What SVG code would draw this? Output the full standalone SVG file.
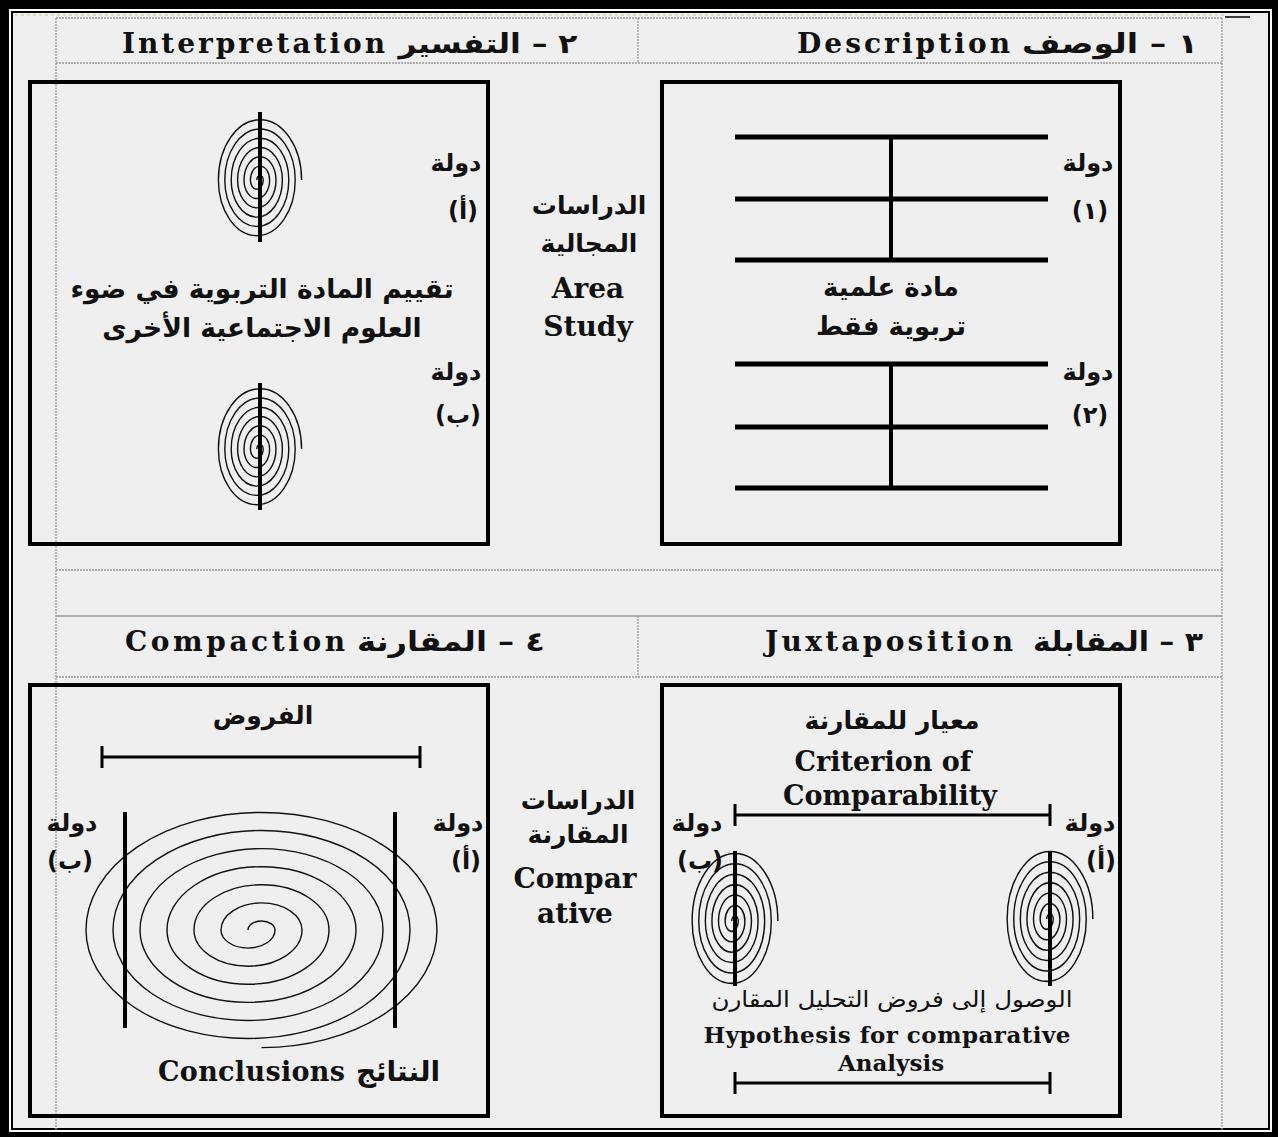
<svg xmlns="http://www.w3.org/2000/svg" xmlns:xlink="http://www.w3.org/1999/xlink" width="1278" height="1137" viewBox="0 0 1278 1137">
<style>
.grid{stroke:#9a9a9a;stroke-width:1.3;fill:none;stroke-dasharray:2 1}
.box{fill:none;stroke:#000;stroke-width:4}
.bar{stroke:#000;stroke-width:5;fill:none}
.thin{stroke:#000;stroke-width:3;fill:none}
.stem{stroke:#000;stroke-width:4;fill:none}
.spiral{stroke:#111;stroke-width:1.4;fill:none}
.hdr{font-family:"DejaVu Serif","Liberation Serif",serif;font-weight:bold;font-size:28px;fill:#111}
.hda{font-family:"DejaVu Sans",sans-serif;font-weight:bold;font-size:27px;fill:#111;text-anchor:middle}
.en{font-family:"DejaVu Serif","Liberation Serif",serif;font-weight:bold;font-size:27px;fill:#111;text-anchor:middle}
.ar{font-family:"DejaVu Sans",sans-serif;font-weight:bold;font-size:25px;fill:#111;text-anchor:middle}
.dw{font-size:24px}
</style>
<defs>
<path id="sp" class="spiral" d="M -3.2 0 A 3.2 4.64 0 0 1 3.2 0 A 6.4 9.28 0 0 1 -9.6 0 A 9.6 13.92 0 0 1 9.6 0 A 12.8 18.56 0 0 1 -16 0 A 16 23.2 0 0 1 16 0 A 19.2 27.84 0 0 1 -22.4 0 A 22.4 32.48 0 0 1 22.4 0 A 25.6 37.12 0 0 1 -28.8 0 A 28.8 41.76 0 0 1 28.8 0 A 32 46.4 0 0 1 -35.2 0 A 35.2 51.04 0 0 1 35.2 0 A 38.4 55.68 0 0 1 -41.6 0 A 41.6 60.32 0 0 1 41.6 0"/>
</defs>
<g id="frame">
<rect x="0" y="0" width="1278" height="1137" fill="#000"/>
<rect x="9" y="9" width="1263" height="1123" fill="#fff"/>
<rect x="11" y="11" width="1259" height="1119" fill="#000"/>
<rect x="13" y="13" width="1255" height="1115" fill="#efefef"/>
<line x1="15" y1="15" x2="1225" y2="15" stroke="#c9c79a" stroke-width="1.2" stroke-dasharray="3 3"/>
<line x1="1225" y1="17" x2="1250" y2="17" stroke="#000" stroke-width="1.5"/>
</g>
<g id="table">
<line class="grid" x1="56" y1="18" x2="1222" y2="18"/>
<line class="grid" x1="56" y1="63" x2="1222" y2="63"/>
<line class="grid" x1="56" y1="18" x2="56" y2="1130"/>
<line class="grid" x1="1222" y1="18" x2="1222" y2="1130"/>
<line class="grid" x1="638" y1="18" x2="638" y2="63"/>
<line class="grid" x1="56" y1="570" x2="1222" y2="570"/>
<line x1="56" y1="616" x2="1222" y2="616" stroke="#999" stroke-width="1.3"/>
<line class="grid" x1="56" y1="677" x2="1222" y2="677"/>
<line class="grid" x1="638" y1="616" x2="638" y2="677"/>
</g>
<g id="header-interpretation">
<text class="hdr" x="122" y="53" textLength="263" lengthAdjust="spacing">Interpretation</text>
<text class="hda" x="488" y="53" direction="rtl" textLength="179" lengthAdjust="spacingAndGlyphs">٢ – التفسير</text>
</g>
<g id="header-description">
<text class="hdr" x="797" y="53" textLength="213" lengthAdjust="spacing">Description</text>
<text class="hda" x="1110" y="53" direction="rtl" textLength="176" lengthAdjust="spacingAndGlyphs">١ – الوصف</text>
</g>
<g id="header-compaction">
<text class="hdr" x="125" y="651" textLength="220" lengthAdjust="spacing">Compaction</text>
<text class="hda" x="451" y="651" direction="rtl" textLength="188" lengthAdjust="spacingAndGlyphs">٤ – المقارنة</text>
</g>
<g id="header-juxtaposition">
<text class="hdr" x="765" y="651" textLength="248" lengthAdjust="spacing">Juxtaposition</text>
<text class="hda" x="1118" y="651" direction="rtl" textLength="170" lengthAdjust="spacingAndGlyphs">٣ – المقابلة</text>
</g>
<g id="panel-description">
<rect class="box" x="662" y="82" width="458" height="462"/>
<text class="ar" x="891" y="296" style="font-size:26px">مادة علمية</text>
<text class="ar" x="891" y="335" style="font-size:26px">تربوية فقط</text>
<text class="ar dw" x="1088" y="171">دولة</text>
<text class="ar dw" x="1090" y="219">(١)</text>
<text class="ar dw" x="1088" y="380">دولة</text>
<text class="ar dw" x="1090" y="423">(٢)</text>
</g>
<g id="panel-interpretation">
<rect class="box" x="30" y="82" width="458" height="462"/>
<use xlink:href="#sp" transform="translate(260,180)"/>
<use xlink:href="#sp" transform="translate(260,449)"/>
<text class="ar" x="262" y="298" style="font-size:26.5px">تقييم المادة التربوية في ضوء</text>
<text class="ar" x="262" y="337" style="font-size:26.5px">العلوم الاجتماعية الأخرى</text>
<text class="ar dw" x="456" y="171">دولة</text>
<text class="ar dw" x="463" y="219">(أ)</text>
<text class="ar dw" x="456" y="380">دولة</text>
<text class="ar dw" x="458" y="423">(ب)</text>
</g>
<g id="label-area-study">
<text class="ar" x="589" y="214">الدراسات</text>
<text class="ar" x="589" y="252">المجالية</text>
<text class="en" x="588" y="298" style="font-size:28px">Area</text>
<text class="en" x="588" y="336" style="font-size:28px">Study</text>
</g>
<g id="panel-compaction">
<rect class="box" x="30" y="685" width="458" height="431"/>
<path class="spiral" d="M 248 930 A 13.5 9.05 0 0 1 275 930 A 27 18.09 0 0 1 221 930 A 40.5 27.14 0 0 1 302 930 A 54 36.18 0 0 1 194 930 A 67.5 45.23 0 0 1 329 930 A 81 54.27 0 0 1 167 930 A 94.5 63.3 0 0 1 356 930 A 108 72.4 0 0 1 140 930 A 121.5 81.4 0 0 1 383 930 A 135 90.45 0 0 1 113 930 A 148.5 99.5 0 0 1 410 930 A 162 108.5 0 0 1 86 930 A 175.5 117.6 0 0 1 437 930 A 175.5 117.6 0 0 1 261.5 1047.6"/>
<text class="ar" x="263" y="724">الفروض</text>
<text class="ar dw" x="72" y="831">دولة</text>
<text class="ar dw" x="70" y="869">(ب)</text>
<text class="ar dw" x="458" y="831">دولة</text>
<text class="ar dw" x="466" y="869">(أ)</text>
<text class="en" x="158" y="1081" style="text-anchor:start" textLength="187" lengthAdjust="spacing">Conclusions</text>
<text class="ar" x="398" y="1081" style="font-size:28px">النتائج</text>
</g>
<g id="label-comparative">
<text class="ar" x="578" y="809">الدراسات</text>
<text class="ar" x="578" y="843">المقارنة</text>
<text class="en" x="575" y="888" style="font-size:28px">Compar</text>
<text class="en" x="575" y="923" style="font-size:28px">ative</text>
</g>
<g id="panel-juxtaposition">
<rect class="box" x="662" y="685" width="458" height="431"/>
<use xlink:href="#sp" transform="translate(735,921) scale(1.03,1.12)"/>
<use xlink:href="#sp" transform="translate(1050,919) scale(1.03,1.12)"/>
<text class="ar" x="892" y="729">معيار للمقارنة</text>
<text class="en" x="883" y="771">Criterion of</text>
<text class="en" x="890" y="805">Comparability</text>
<text class="ar dw" x="697" y="831">دولة</text>
<text class="ar dw" x="1090" y="831">دولة</text>
<text class="ar dw" x="700" y="869">(ب)</text>
<text class="ar dw" x="1101" y="869">(أ)</text>
<text class="ar" x="892" y="1007" style="font-weight:normal;font-size:22px" textLength="361" lengthAdjust="spacingAndGlyphs">الوصول إلى فروض التحليل المقارن</text>
<text class="en" x="887" y="1043" style="font-size:23px" textLength="367" lengthAdjust="spacing">Hypothesis for comparative</text>
<text class="en" x="891" y="1071" style="font-size:23px">Analysis</text>
</g>
<g id="connectors">
<line class="bar" x1="735" y1="137" x2="1048" y2="137"/>
<line class="bar" x1="735" y1="199" x2="1048" y2="199"/>
<line class="bar" x1="735" y1="260" x2="1048" y2="260"/>
<line class="stem" x1="891" y1="137" x2="891" y2="260"/>
<line class="bar" x1="735" y1="364" x2="1048" y2="364"/>
<line class="bar" x1="735" y1="427" x2="1048" y2="427"/>
<line class="bar" x1="735" y1="488" x2="1048" y2="488"/>
<line class="stem" x1="891" y1="364" x2="891" y2="488"/>
<line class="stem" x1="260" y1="112" x2="260" y2="242"/>
<line class="stem" x1="260" y1="383" x2="260" y2="510"/>
<path class="thin" d="M 102 757 H 420 M 102 746 V 768 M 420 746 V 768"/>
<line class="stem" x1="125" y1="812" x2="125" y2="1028"/>
<line class="stem" x1="395" y1="812" x2="395" y2="1028"/>
<path class="thin" d="M 735 815 H 1050 M 735 804 V 826 M 1050 804 V 826"/>
<line class="stem" x1="735" y1="851" x2="735" y2="986"/>
<line class="stem" x1="1050" y1="851" x2="1050" y2="986"/>
<path class="thin" d="M 735 1083 H 1050 M 735 1072 V 1094 M 1050 1072 V 1094"/>
</g>
</svg>
